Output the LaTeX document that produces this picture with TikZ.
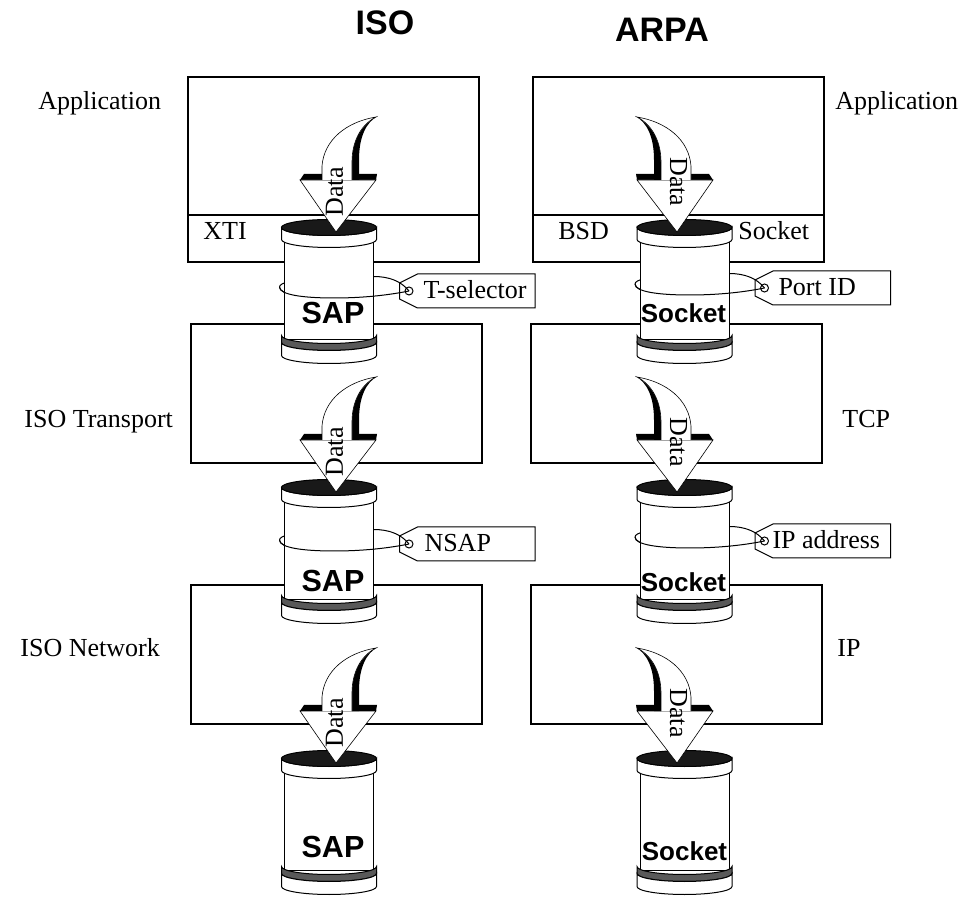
\documentclass[tikz,border=0pt]{standalone}
\usepackage{fontspec}
\setmainfont{Liberation Serif}
\setsansfont{Liberation Sans}

% can: name, centre x, top y, text style, text, text x, text y
\newcommand{\drawcan}[7]{%
  \begin{scope}[shift={(#2,#3)}, line width=0.5pt]
    \filldraw[fill=white] (-44.5,12) rectangle (44.5,112);
    \filldraw[fill=black!65] (-47.5,108) arc (180:0:47.5 and 8) -- (47.5,115) arc (0:180:47.5 and 8) -- cycle;
    \filldraw[fill=white] (-47.5,115) arc (180:0:47.5 and 8) -- (47.5,128) arc (0:180:47.5 and 8) -- cycle;
    \filldraw[fill=white] (-47.5,0) arc (180:0:47.5 and 8) -- (47.5,12) arc (0:180:47.5 and 8) -- cycle;
    \filldraw[fill=black!90] (47.5,0) arc (0:360:47.5 and 8);
  \end{scope}
  \node[#4] (#1) at (#6,#7) {#5};
}

% tag with its string: name, hole x, hole y, text, text offset
\newcommand{\drawtag}[5]{%
  \begin{scope}[shift={(#2,#3)}, line width=0.5pt]
    \filldraw[fill=white] (-9.5,-8) -- (8.5,-17) -- (126,-17) -- (126,17) -- (8.5,17) -- (-9.5,8) -- cycle;
    \draw (0,0) circle (4);
    \draw (0,0) .. controls (-8,-10) and (-20,-14.5) .. (-35.5,-14.5)
      .. controls (-70,-15) and (-129.5,-13) .. (-129.5,-4);
    \draw (-129.5,-4) .. controls (-129.5,4) and (-105,7) .. (-75,7);
    \node[lbl] (#1) at (#5,8) {#4};
  \end{scope}
}
\newcommand{\frontring}[2]{%
  \draw[line width=0.5pt] (#1,#2) ++(-129.5,-4) .. controls +(0,8) and +(-30,0) .. ++(54.5,11)
    .. controls +(30,0) and +(-20,4) .. ++(75,-7);
}

% data arrow: name, apex x, apex y, side, rotation, text y
\newcommand{\dataarrow}[6]{%
  \begin{scope}[shift={(#2,#3)}, xscale=#4, line width=0.3pt]
    \fill (-36,-52) -- (-32,-58) -- (41,-58) -- (40,-52) -- cycle;
    \filldraw[fill=white] (-36,-52) -- (0,0) -- (40,-52) -- cycle;
    \fill (16,-52) -- (16,-70) .. controls (16,-92) and (26,-108) .. (42,-116)
      .. controls (30,-110) and (23,-95) .. (23,-72) -- (23,-52) -- cycle;
    \filldraw[fill=white] (-14,-52) -- (-14,-66) .. controls (-12,-92) and (10,-110) .. (40,-115)
      .. controls (26,-108) and (16,-92) .. (16,-70) -- (16,-52);
    \node[datatext, rotate=#5] (#1) at (-1.5,#6) {Data};
  \end{scope}
}

\begin{document}
\begin{tikzpicture}[x=0.5pt, y=-0.5pt,
    layer/.style={draw, line width=0.75pt},
    lbl/.style={font=\fontsize{13}{15}\selectfont, inner sep=0pt, anchor=base west},
    datatext/.style={font=\fontsize{13}{15}\selectfont, inner sep=0pt},
    heading/.style={font=\sffamily\bfseries\fontsize{17}{20}\selectfont, inner sep=0pt, anchor=base},
    saptext/.style={font=\sffamily\bfseries\fontsize{15.25}{17}\selectfont, inner sep=0pt},
    socktext/.style={font=\sffamily\bfseries\fontsize{13}{15}\selectfont, inner sep=0pt}]
  \useasboundingbox (0,0) rectangle (964,897);

  % layers
  \draw[layer] (188,77) rectangle (479,262);
  \draw[layer] (188,215) -- (479,215);
  \draw[layer] (191,324) rectangle (482,463);
  \draw[layer] (191,585) rectangle (482,724);
  \draw[layer] (533,77) rectangle (824,262);
  \draw[layer] (533,215) -- (824,215);
  \draw[layer] (531,324) rectangle (822,463);
  \draw[layer] (531,585) rectangle (822,724);

  % headings and layer names
  \node[heading] (iso) at (385,35) {ISO};
  \node[heading] (arpa) at (662,41.5) {ARPA};
  \node[lbl] (appl) at (38,110) {Application};
  \node[lbl] (isot) at (24,428) {ISO Transport};
  \node[lbl] (ison) at (20,657) {ISO Network};
  \node[lbl] (appr) at (835,110) {Application};
  \node[lbl] (tcp) at (842,428) {TCP};
  \node[lbl] (ip) at (837,657) {IP};
  \node[lbl] (xti) at (203,240) {XTI};
  \node[lbl] (bsd) at (558,239.5) {BSD};
  \node[lbl] (bsds) at (738,239.5) {Socket};

  % tags
  \drawtag{tsel}{409}{291}{T-selector}{14}
  \drawtag{nsap}{409}{544}{NSAP}{15}
  \drawtag{port}{764.5}{288}{Port ID}{13.5}
  \drawtag{ipad}{764.5}{541}{IP address}{7.5}

  % cans
  \drawcan{sap1}{329}{227.5}{saptext}{SAP}{333}{313}
  \drawcan{sap2}{329}{487.5}{saptext}{SAP}{333}{581}
  \drawcan{sap3}{329}{758.5}{saptext}{SAP}{333}{847}
  \drawcan{sock1}{684.5}{227.5}{socktext}{Socket}{683.5}{313}
  \drawcan{sock2}{684.5}{487.5}{socktext}{Socket}{683.5}{582}
  \drawcan{sock3}{684.5}{758.5}{socktext}{Socket}{684.5}{851}

  \frontring{409}{291}
  \frontring{409}{544}
  \frontring{764.5}{288}
  \frontring{764.5}{541}

  % data arrows
  \dataarrow{d1}{336}{232}{1}{90}{-40}
  \dataarrow{d2}{336}{492}{1}{90}{-40}
  \dataarrow{d3}{336}{763}{1}{90}{-40}
  \dataarrow{d4}{677}{232}{-1}{-90}{-50}
  \dataarrow{d5}{677}{492}{-1}{-90}{-50}
  \dataarrow{d6}{677}{763}{-1}{-90}{-50}
\end{tikzpicture}
\end{document}
